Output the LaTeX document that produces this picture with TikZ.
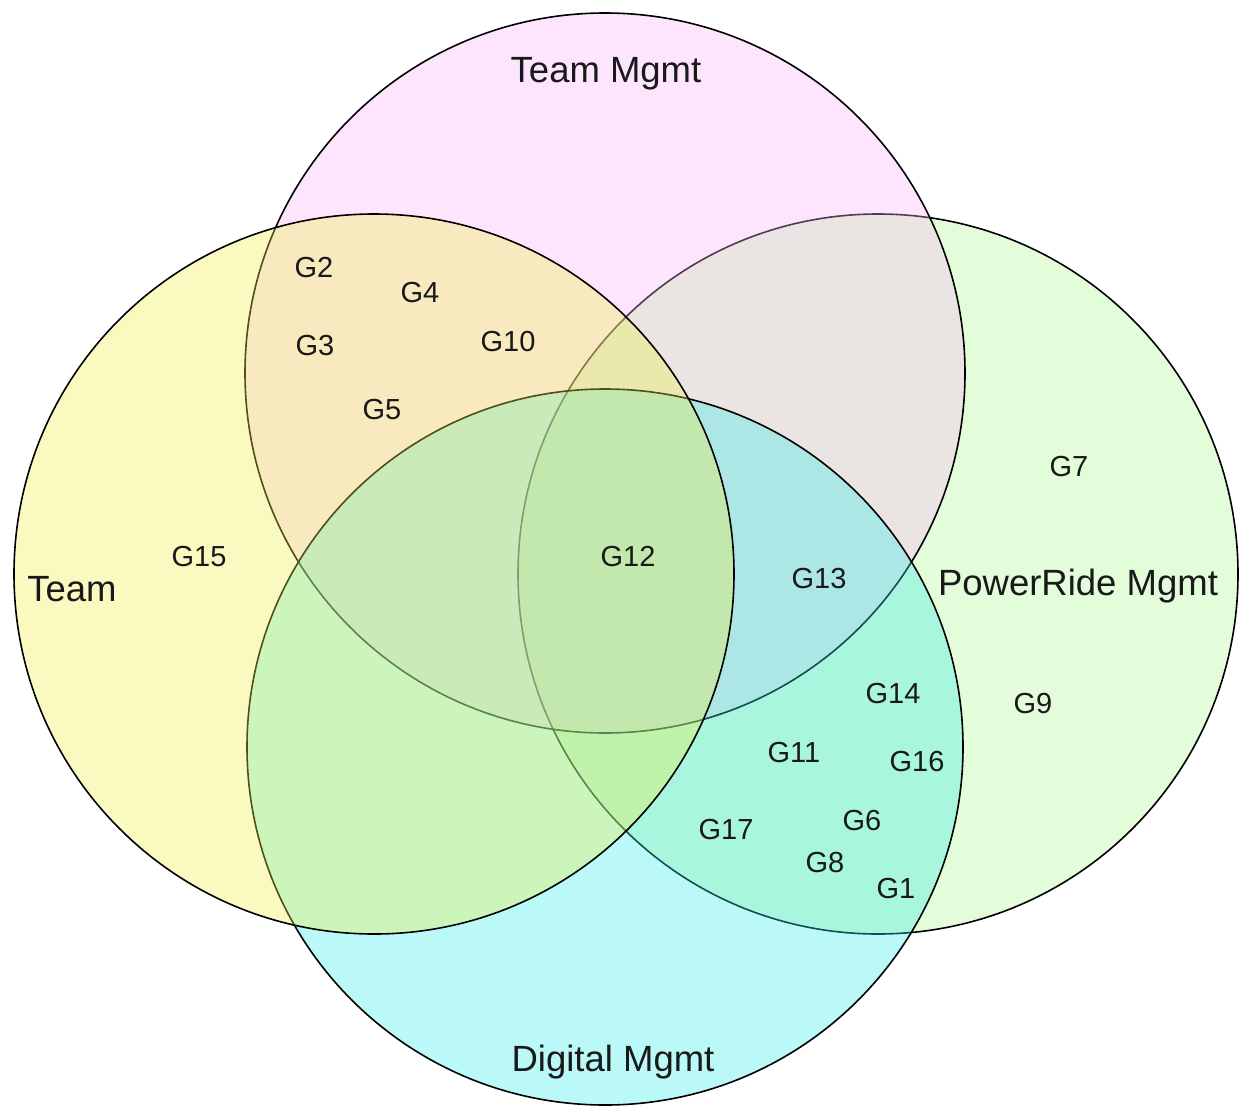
\documentclass[tikz,border=0pt]{standalone}
\usepackage{fontspec}
\setmainfont{Liberation Sans}
\definecolor{prg}{RGB}{171,246,141}
\definecolor{tmp}{RGB}{249,180,249}
\definecolor{dmc}{RGB}{51,234,234}
\definecolor{tmy}{RGB}{240,240,66}
\definecolor{txt}{RGB}{25,25,25}
\begin{document}
\begin{tikzpicture}[x=1pt,y=-1pt,
  setc/.style={circle, draw=black, line width=1.6pt, fill opacity=0.333, draw opacity=1, minimum size=720pt, inner sep=0pt, outer sep=0pt},
  glab/.style={anchor=base, inner sep=0pt, font=\fontsize{29}{35}\selectfont, text=txt},
  tlab/.style={anchor=base, inner sep=0pt, font=\fontsize{36.5}{44}\selectfont, text=txt}]
\useasboundingbox (0,0) rectangle (1247,1106);
% circles, in drawing order
\node[setc, fill=prg] (pr) at (878,574) {};
\node[setc, fill=tmp] (tm) at (605,373) {};
\node[setc, fill=dmc, minimum size=716pt] (dm) at (605,747) {};
\node[setc, fill=tmy] (te) at (374,574) {};
% set titles
\node[tlab] (ttm) at (606,82) {Team Mgmt};
\node[tlab] (tte) at (72,601) {Team};
\node[tlab] (tpr) at (1078,595) {PowerRide Mgmt};
\node[tlab] (tdm) at (613,1071) {Digital Mgmt};
% items
\node[glab] (g2) at (314,277) {G2};
\node[glab] (g4) at (420,302) {G4};
\node[glab] (g3) at (315,355) {G3};
\node[glab] (g10) at (508,351) {G10};
\node[glab] (g5) at (382,419) {G5};
\node[glab] (g15) at (199,566) {G15};
\node[glab] (g12) at (628,566) {G12};
\node[glab] (g13) at (819,588) {G13};
\node[glab] (g7) at (1069,476) {G7};
\node[glab] (g9) at (1033,713) {G9};
\node[glab] (g14) at (893,703) {G14};
\node[glab] (g11) at (794,762) {G11};
\node[glab] (g16) at (917,771) {G16};
\node[glab] (g17) at (726,839) {G17};
\node[glab] (g6) at (862,830) {G6};
\node[glab] (g8) at (825,872) {G8};
\node[glab] (g1) at (896,898) {G1};
\end{tikzpicture}
\end{document}
